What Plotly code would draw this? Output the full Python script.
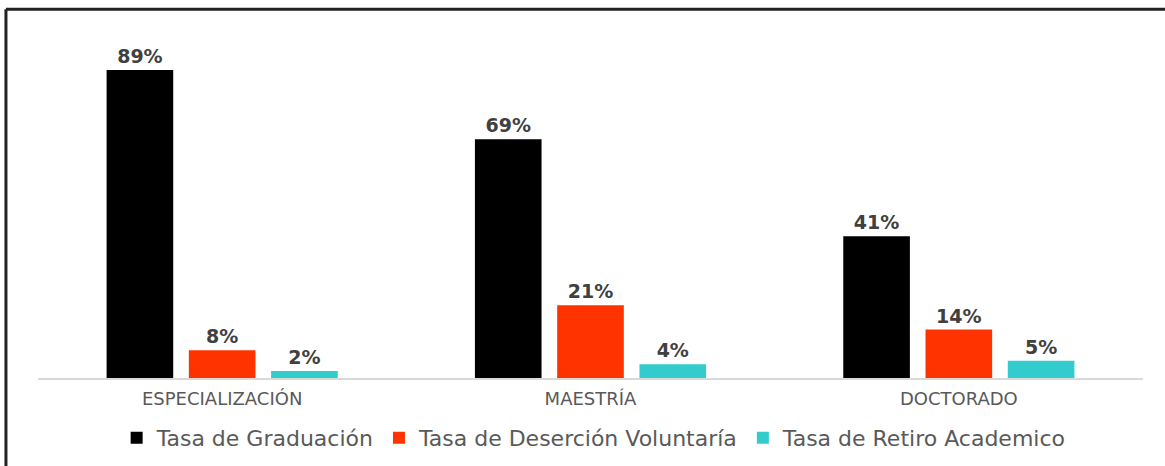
import plotly.graph_objects as go

# Programas de posgrado y tasas (%)
programas = ["ESPECIALIZACIÓN", "MAESTRÍA", "DOCTORADO"]
graduacion = [89, 69, 41]
desercion = [8, 21, 14]
retiro = [2, 4, 5]

series = [
    ("Tasa de Graduación", graduacion, "#000000"),
    ("Tasa de Deserción Voluntaría", desercion, "#FF3300"),
    ("Tasa de Retiro Academico", retiro, "#33CCCC"),
]

fig = go.Figure()
for nombre, valores, color in series:
    fig.add_trace(go.Bar(
        x=programas,
        y=valores,
        name=nombre,
        marker=dict(color=color, line=dict(width=0)),
        text=[f"{v}%" for v in valores],
        textposition="outside",
        textfont=dict(family="DejaVu Sans", size=19, color="#404040", weight="bold"),
        cliponaxis=False,
    ))

# marco del gráfico (bordes superior e izquierdo)
for x0, y0, x1, y1 in [(-0.029, 1.066, 1.1, 1.066), (-0.029, 1.066, -0.029, -0.5)]:
    fig.add_shape(type="line", xref="paper", yref="paper",
                  x0=x0, y0=y0, x1=x1, y1=y1,
                  line=dict(color="#222222", width=3))

fig.update_layout(
    width=1165,
    height=466,
    margin=dict(l=38, r=22, t=32, b=88, autoexpand=False),
    paper_bgcolor="white",
    plot_bgcolor="white",
    barmode="group",
    bargap=0.33,
    bargroupgap=0.19,
    showlegend=True,
    legend=dict(
        orientation="h",
        xref="container", yref="container",
        x=0.51, xanchor="center",
        y=0.06, yanchor="middle",
        font=dict(family="DejaVu Sans", size=22, color="#595959"),
        itemsizing="constant",
        itemwidth=30,
    ),
    xaxis=dict(
        showline=True, linecolor="#D9D9D9", linewidth=1.5,
        ticks="", showgrid=False,
        ticklabelstandoff=4,
        tickfont=dict(family="DejaVu Sans", size=18, color="#595959"),
    ),
    yaxis=dict(
        range=[0, 100], visible=False, showgrid=False, zeroline=False,
    ),
)

fig.write_html("out.html")
